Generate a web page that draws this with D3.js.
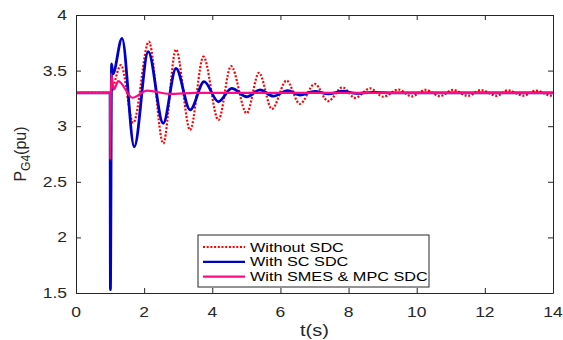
<!DOCTYPE html>
<html>
<head>
<meta charset="utf-8">
<script src="https://cdn.jsdelivr.net/npm/d3@7"></script>
<style>
  body { margin: 0; background: #fff; }
  svg { display: block; font-family: "Liberation Sans", Arial, sans-serif; }
</style>
</head>
<body>
<div id="chart"></div>
<script>
// values: [t (s), P_G4 (pu)]
const withoutSdc = [
  [0, 3.3], [1.0, 3.3], [1.32, 3.55], [1.68, 3.03], [2.14, 3.76], [2.56, 2.845],
  [2.935, 3.69], [3.35, 2.966], [3.74, 3.625], [4.18, 3.056], [4.55, 3.54],
  [5.01, 3.116], [5.37, 3.48], [5.75, 3.155], [6.18, 3.41], [6.57, 3.2],
  [7.01, 3.38], [7.4, 3.225], [7.82, 3.35], [8.19, 3.255], [8.63, 3.34],
  [9.02, 3.265], [9.46, 3.33], [9.85, 3.268], [10.26, 3.327], [10.68, 3.27],
  [11.06, 3.326], [11.51, 3.272], [11.89, 3.325], [12.35, 3.273], [12.68, 3.323],
  [13.13, 3.274], [13.5, 3.32], [13.94, 3.275], [14.0, 3.278]
];
const withScSdc = [
  [0, 3.3], [1.0, 3.3], [1.01, 1.53], [1.045, 3.56], [1.08, 3.47], [1.35, 3.79],
  [1.71, 2.815], [2.12, 3.67], [2.56, 3.026], [2.935, 3.52], [3.35, 3.146],
  [3.76, 3.4], [4.18, 3.22], [4.57, 3.34], [5.01, 3.265], [5.4, 3.327],
  [5.79, 3.27], [6.21, 3.32], [6.57, 3.28], [7.01, 3.314], [7.4, 3.29],
  [7.84, 3.315], [8.22, 3.295], [8.7, 3.305], [9.3, 3.3], [14.0, 3.3]
];
const withSmesMpc = [
  [0, 3.3], [1.0, 3.3], [1.005, 2.7], [1.03, 3.47], [1.11, 3.33], [1.24, 3.405],
  [1.66, 3.256], [2.09, 3.32], [2.76, 3.29], [3.5, 3.3], [14.0, 3.3]
];
const seriesNames = ["Without SDC", "With SC SDC", "With SMES & MPC SDC"];
const xTicks = [0, 2, 4, 6, 8, 10, 12, 14];
const yTicks = [1.5, 2, 2.5, 3, 3.5, 4];

const width = 563, height = 340;
const margin = { top: 15, right: 10, bottom: 47, left: 76 };
const axisColor = "#262626";
const stretch = 1.25; // the source image is a bit wider than tall

const svg = d3.select("#chart").append("svg")
  .attr("width", width)
  .attr("height", height);

const x = d3.scaleLinear().domain([0, 14]).range([margin.left, width - margin.right]);
const y = d3.scaleLinear().domain([1.5, 4]).range([height - margin.bottom, margin.top]);

// text widened horizontally like the source
function label(parent, px, py, str, size, anchor, color) {
  return parent.append("text")
    .attr("transform", `translate(${px},${py}) scale(${stretch},1)`)
    .attr("text-anchor", anchor)
    .attr("fill", color || axisColor)
    .style("font-size", size + "px")
    .text(str);
}

svg.append("clipPath").attr("id", "plot-clip")
  .append("rect")
  .attr("x", x(0)).attr("y", y(4))
  .attr("width", x(14) - x(0)).attr("height", y(1.5) - y(4));

const line = d3.line()
  .x(d => x(d[0]))
  .y(d => y(d[1]))
  .curve(d3.curveMonotoneX);

const styles = [
  { color: "#ff0000", width: 2.2, dash: "2,1.7" },
  { color: "#0000cc", width: 2.8, dash: null },
  { color: "#ff0a80", width: 2.2, dash: null }
];

const plot = svg.append("g").attr("clip-path", "url(#plot-clip)");
[withoutSdc, withScSdc, withSmesMpc].forEach((data, i) => {
  plot.append("path")
    .datum(data)
    .attr("fill", "none")
    .attr("stroke", styles[i].color)
    .attr("stroke-width", styles[i].width)
    .attr("stroke-dasharray", styles[i].dash)
    .attr("stroke-linejoin", "round")
    .attr("d", line);
});

// axes, matlab style: box with inward ticks on all sides
const axBottom = svg.append("g")
  .attr("transform", `translate(0,${y(1.5)})`)
  .call(d3.axisBottom(x).tickValues(xTicks).tickSizeInner(-5).tickSizeOuter(0).tickFormat(""));
const axTop = svg.append("g")
  .attr("transform", `translate(0,${y(4)})`)
  .call(d3.axisTop(x).tickValues(xTicks).tickSizeInner(-5).tickSizeOuter(0).tickFormat(""));
const axLeft = svg.append("g")
  .attr("transform", `translate(${x(0)},0)`)
  .call(d3.axisLeft(y).tickValues(yTicks).tickSizeInner(-5).tickSizeOuter(0).tickFormat(""));
const axRight = svg.append("g")
  .attr("transform", `translate(${x(14)},0)`)
  .call(d3.axisRight(y).tickValues(yTicks).tickSizeInner(-5).tickSizeOuter(0).tickFormat(""));

[axBottom, axTop, axLeft, axRight].forEach(g => {
  g.select(".domain").attr("stroke", axisColor).attr("stroke-width", 1);
  g.selectAll(".tick line").attr("stroke", axisColor);
});

const fmt = d3.format("~g");
xTicks.forEach(t => label(svg, x(t), 317, fmt(t), 14, "middle"));
yTicks.forEach(v => label(svg, x(0) - 9, y(v) + 5, fmt(v), 14, "end"));

label(svg, (x(0) + x(14)) / 2, 336, "t(s)", 16, "middle");

const ylab = svg.append("text")
  .attr("transform", `translate(26,${(y(1.5) + y(4)) / 2}) rotate(-90)`)
  .attr("text-anchor", "middle")
  .attr("fill", axisColor)
  .style("font-size", "16px");
ylab.append("tspan").text("P");
ylab.append("tspan").attr("dy", 4).style("font-size", "12px").text("G4");
ylab.append("tspan").attr("dy", -4).text("(pu)");

// legend
const legend = svg.append("g").attr("transform", "translate(198,235)");
legend.append("rect")
  .attr("width", 231).attr("height", 52)
  .attr("fill", "#fff")
  .attr("stroke", axisColor)
  .attr("stroke-width", 1);
seriesNames.forEach((name, i) => {
  const ry = 12 + i * 14.8;
  legend.append("line")
    .attr("x1", 5).attr("x2", 47)
    .attr("y1", ry).attr("y2", ry)
    .attr("stroke", styles[i].color)
    .attr("stroke-width", 2.2)
    .attr("stroke-dasharray", styles[i].dash);
  label(legend, 52, ry + 4.5, name, 13, "start", "#000");
});
</script>
</body>
</html>
